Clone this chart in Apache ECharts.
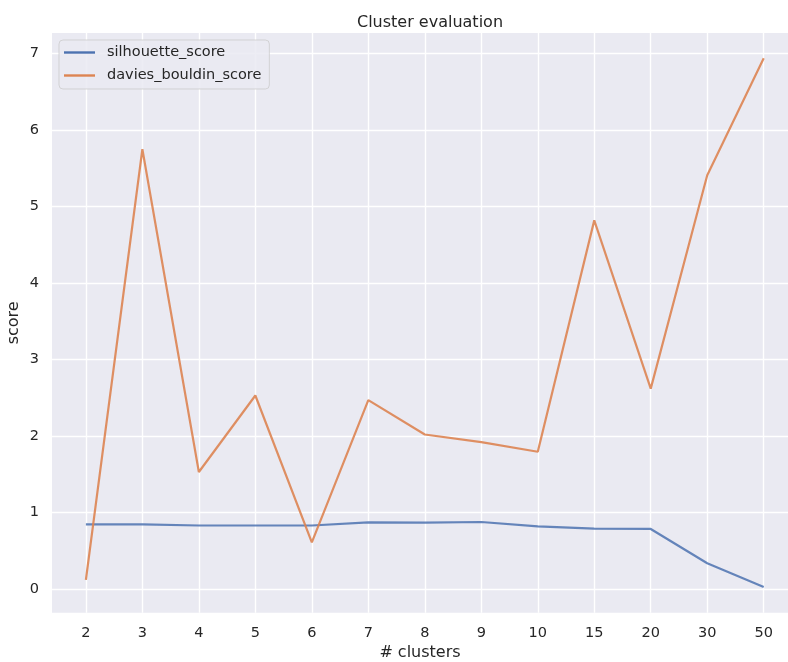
<!DOCTYPE html>
<html>
<head>
<meta charset="utf-8">
<script src="https://cdn.jsdelivr.net/npm/echarts@6/dist/echarts.min.js"></script>
<style>html,body{margin:0;padding:0;background:#fff}#c{width:788px;height:662px}</style>
</head>
<body>
<div id="c"></div>
<script>
const categories = ['2','3','4','5','6','7','8','9','10','15','20','30','50'];
const silhouette = [0.846, 0.845, 0.83, 0.83, 0.83, 0.87, 0.867, 0.876, 0.82, 0.79, 0.785, 0.336, 0.026];
const daviesBouldin = [0.118, 5.75, 1.53, 2.53, 0.61, 2.47, 2.02, 1.92, 1.795, 4.82, 2.62, 5.41, 6.94];
const yTicks = [0, 1, 2, 3, 4, 5, 6, 7];

const idx = categories.map((_, i) => i);
const FONT = 'DejaVu Sans';
const TXT = '#262626';
const GRIDLINE = {color: '#ffffff', width: 1.4, type: 'solid'};

const chart = echarts.init(document.getElementById('c'), null, {renderer: 'canvas'});
chart.setOption({
  animation: false,
  backgroundColor: '#ffffff',
  title: {
    text: 'Cluster evaluation',
    left: 425, top: 10, textAlign: 'center',
    textStyle: {fontFamily: FONT, fontSize: 16, fontWeight: 'normal', color: TXT}
  },
  legend: {
    orient: 'vertical', left: 59, top: 40, z: 10,
    padding: [4, 8, 5, 5],
    itemWidth: 31, itemHeight: 2.4, itemGap: 6,
    icon: 'rect',
    backgroundColor: 'rgba(234,234,242,0.85)',
    borderColor: 'rgba(204,204,204,0.8)', borderWidth: 1, borderRadius: 4,
    textStyle: {fontFamily: FONT, fontSize: 14.5, color: TXT, lineHeight: 17, padding: [0, 0, 0, 7]},
    data: ['silhouette_score', 'davies_bouldin_score']
  },
  grid: {left: 52, right: 0, top: 33, bottom: 49.3, show: true, backgroundColor: '#EAEAF2', borderWidth: 0,
         containLabel: false, outerBoundsMode: 'none'},
  xAxis: {
    type: 'value', min: -0.6, max: 12.43,
    name: '# clusters', nameLocation: 'middle', nameGap: 32, nameMoveOverlap: false,
    nameTextStyle: {fontFamily: FONT, fontSize: 16, color: TXT},
    axisLine: {show: false},
    axisTick: {show: false, customValues: idx},
    axisLabel: {customValues: idx, formatter: v => categories[Math.round(v)], fontFamily: FONT, fontSize: 14.5, color: TXT, margin: 13},
    splitLine: {show: false}
  },
  yAxis: {
    type: 'value', min: -0.31, max: 7.27,
    name: 'score', nameLocation: 'middle', nameGap: 30, nameMoveOverlap: false,
    nameTextStyle: {fontFamily: FONT, fontSize: 16, color: TXT},
    axisLine: {show: false},
    axisTick: {show: false, customValues: yTicks},
    axisLabel: {customValues: yTicks, fontFamily: FONT, fontSize: 14.5, color: TXT, margin: 13},
    splitLine: {show: false}
  },
  series: [
    {
      name: 'gridlines', type: 'line', data: [], z: 1, silent: true,
      markLine: {
        z: 1, zlevel: 0,
        silent: true, symbol: 'none', animation: false,
        label: {show: false},
        lineStyle: GRIDLINE,
        emphasis: {disabled: true},
        data: idx.map(i => ({xAxis: i})).concat(yTicks.map(v => ({yAxis: v})))
      }
    },
    {
      name: 'silhouette_score', type: 'line', showSymbol: false, z: 3,
      data: idx.map(i => [i, silhouette[i]]),
      itemStyle: {color: '#4C72B0'},
      lineStyle: {color: '#4C72B0', width: 2.2, opacity: 0.85}
    },
    {
      name: 'davies_bouldin_score', type: 'line', showSymbol: false, z: 3,
      data: idx.map(i => [i, daviesBouldin[i]]),
      itemStyle: {color: '#DD8452'},
      lineStyle: {color: '#DD8452', width: 2.2, opacity: 0.9}
    }
  ]
});
</script>
</body>
</html>
